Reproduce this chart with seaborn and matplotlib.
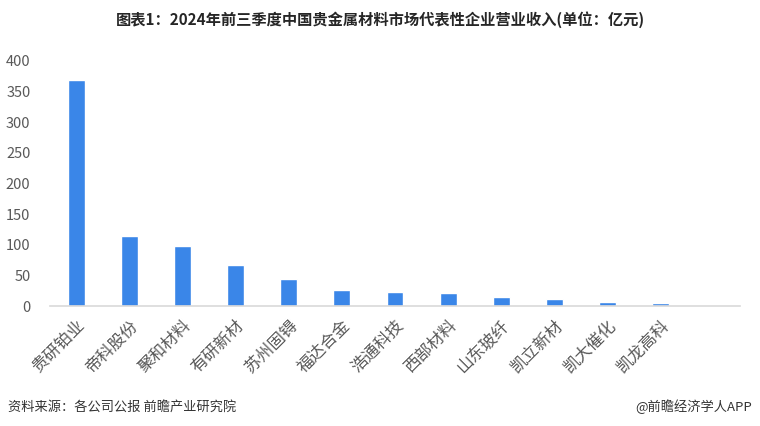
import matplotlib
matplotlib.use('Agg')
import matplotlib.pyplot as plt
import seaborn as sns
import pandas as pd

companies = ['贵研铂业', '帝科股份', '聚和材料', '有研新材', '苏州固锝', '福达合金',
             '浩通科技', '西部材料', '山东玻纤', '凯立新材', '凯大催化', '凯龙高科']
revenue = [368.5, 114.6, 97.8, 67, 43.6, 26.6, 23.4, 21.8, 14.7, 10.9, 7.0, 4.3]
yticks = [0, 50, 100, 150, 200, 250, 300, 350, 400]

df = pd.DataFrame({'company': companies, 'revenue': revenue})

sns.set_theme(style='white')
plt.rcParams['font.family'] = ['Noto Sans CJK SC', 'DejaVu Sans']

fig = plt.figure(figsize=(7.6, 4.26), dpi=100)
ax = fig.add_axes([50/760, 120/426, 690/760, (306-61)/426])

sns.barplot(data=df, x='company', y='revenue', color='#3a86e8', width=0.32,
            saturation=1, ax=ax)

ax.set_xlim(-0.5, 12.5)
ax.set_ylim(0, 400)
ax.set_yticks(yticks)
ax.set_xlabel('')
ax.set_ylabel('')
for s in ['top', 'right', 'left']:
    ax.spines[s].set_visible(False)
ax.spines['bottom'].set_color('#d9d9d9')
ax.spines['bottom'].set_linewidth(1.2)
ax.tick_params(axis='y', labelsize=10.5, colors='#595959', length=0, pad=14)
ax.tick_params(axis='x', labelsize=12, colors='#595959', length=0, pad=8)
plt.setp(ax.get_xticklabels(), rotation=45, ha='right', rotation_mode='anchor')

fig.text(0.5, 0.953, '图表1：2024年前三季度中国贵金属材料市场代表性企业营业收入(单位：亿元)',
         ha='center', va='center', fontsize=11, fontweight='bold', color='#262626')
fig.text(8/760, 1 - 407/426, '资料来源：各公司公报 前瞻产业研究院',
         ha='left', va='center', fontsize=9.5, color='#333333')
fig.text(752/760, 1 - 407/426, '@前瞻经济学人APP',
         ha='right', va='center', fontsize=9.5, color='#333333')

fig.savefig('out.png', dpi=100)
